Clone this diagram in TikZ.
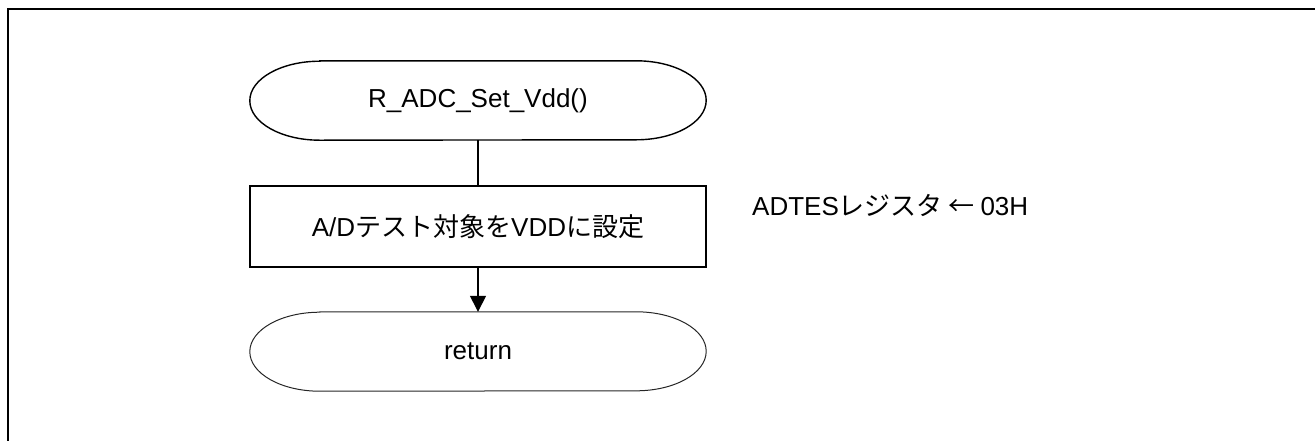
\documentclass[tikz,border=0pt]{standalone}
\usepackage{fontspec}
\setmainfont{Liberation Sans}
\newfontfamily\jp{Noto Sans CJK JP}
\usetikzlibrary{arrows.meta}
\newcommand\drawterm[2]{%
  \draw[#2] ([xshift=70pt]#1.north west) -- ([xshift=-70pt]#1.north east)
    arc[start angle=90,end angle=-90,x radius=70pt,y radius=39.5pt]
    -- ([xshift=70pt]#1.south west)
    arc[start angle=270,end angle=90,x radius=70pt,y radius=39.5pt] -- cycle;}
\begin{document}
\begin{tikzpicture}[x=1pt,y=-1pt,
  every node/.style={font=\fontsize{26}{31}\selectfont},
  term/.style={minimum width=456pt,minimum height=79pt,inner sep=0pt},
  stepbox/.style={draw,line width=1.4pt,minimum width=456pt,minimum height=81pt,inner sep=0pt},
  conn/.style={line width=1.4pt},
  frameline/.style={line width=1.7pt}]
\useasboundingbox (0,0) rectangle (1315,440);
\draw[frameline] (8,442) -- (8,9) -- (1317,9);
\node[term] (start) at (478,100.5) {R\_ADC\_Set\_Vdd()};
\drawterm{start}{line width=1.4pt}
\node[stepbox] (proc) at (478,226.5) {A/D{\jp テスト対象を}VDD{\jp に設定}};
\node[term] (ret) at (478,351.5) {return};
\drawterm{ret}{line width=1pt,black!85}
\draw[conn] (start.south) -- (proc.north);
\draw[conn,-{Triangle[width=16pt,length=16pt]}] (proc.south) -- (ret.north);
\node[anchor=base west,inner sep=0pt] (note) at (752,215) {ADTES{\jp レジスタ ← }03H};
\end{tikzpicture}
\end{document}
